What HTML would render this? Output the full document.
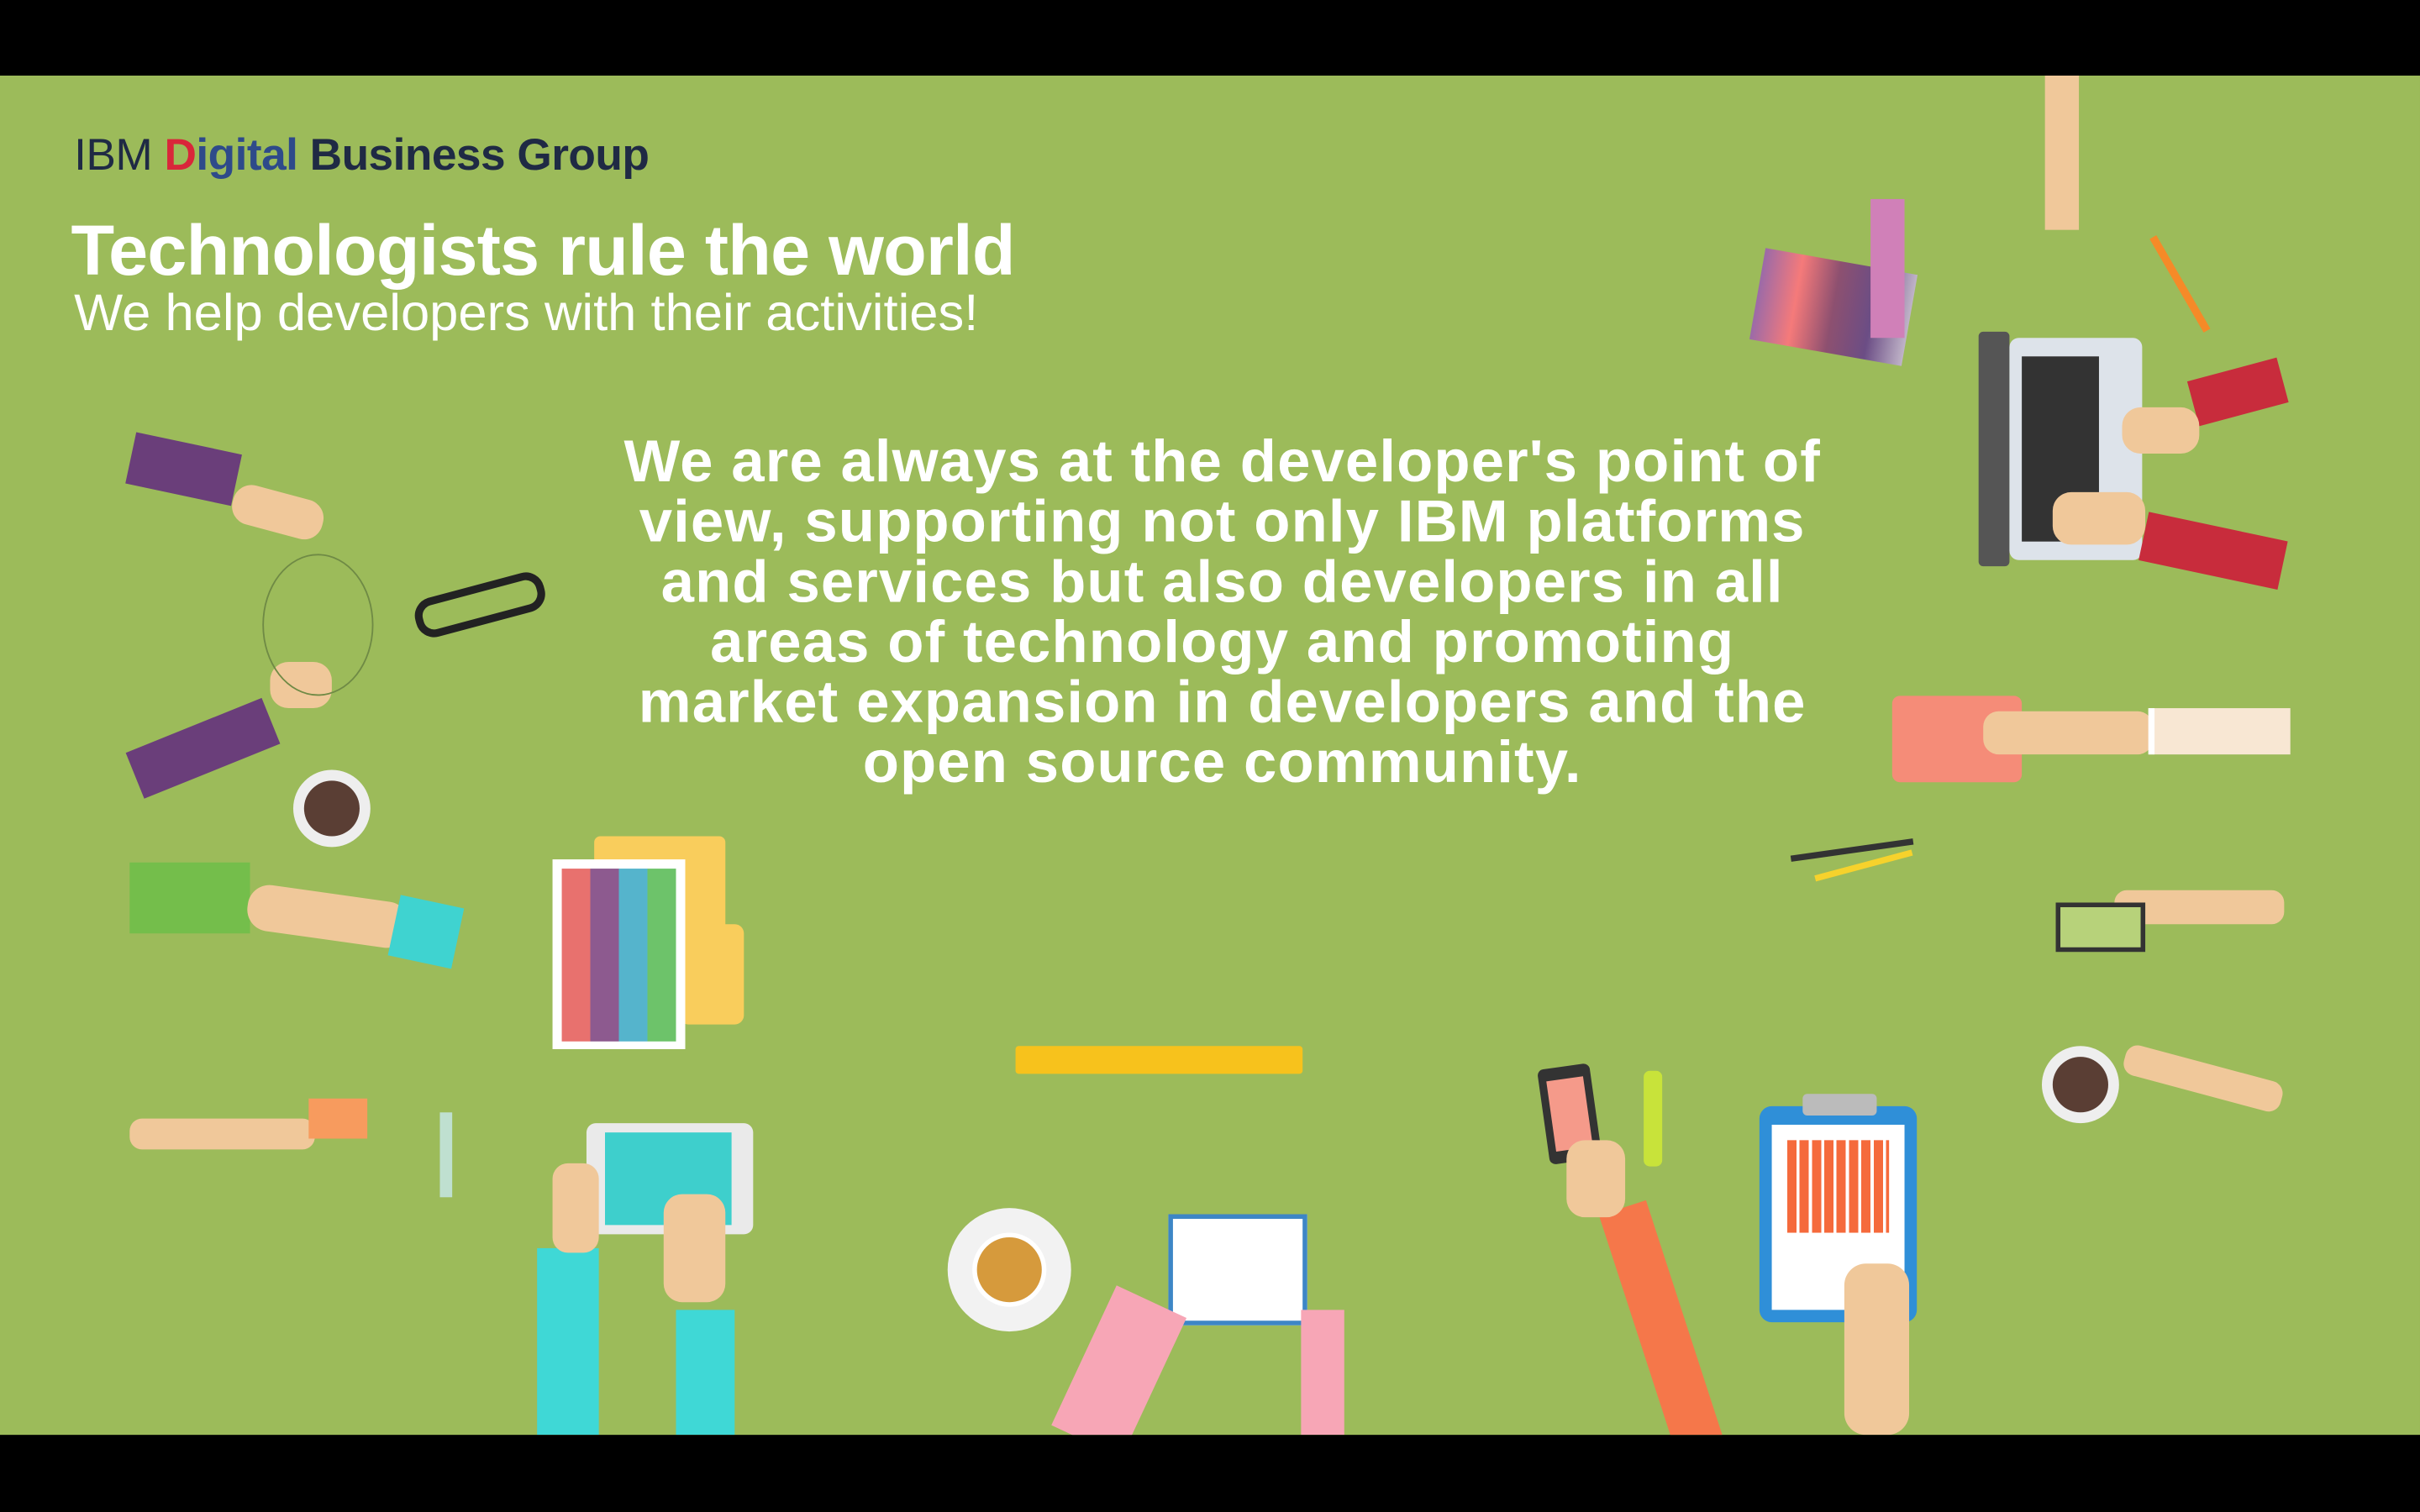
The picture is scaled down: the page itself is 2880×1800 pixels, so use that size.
<!DOCTYPE html>
<html><head><meta charset="utf-8"><style>
html,body{margin:0;padding:0;background:#000;width:2880px;height:1800px;overflow:hidden}
#s{position:absolute;left:0;top:0;width:1568px;height:980px;transform:scale(1.83673);transform-origin:0 0;background:#000;font-family:"Liberation Sans","DejaVu Sans",sans-serif}
#g{position:absolute;left:0;top:49px;width:1568px;height:881px;background:#9cbb5a;overflow:hidden}
.a{position:absolute}
.skin{background:#f0c89a}
.c{position:absolute;text-align:center;left:292px;width:1000px;color:#fff;font-weight:bold;font-size:38.5px;line-height:39px;top:231px;letter-spacing:0.6px}
</style></head><body><div id="s">
<div id="g">
<div class="a" style="left:48px;top:36px;font-size:29px;letter-spacing:-0.3px;color:#1f2a44"><span style="font-weight:normal">IBM </span><b><span style="color:#d9263a">D</span><span style="color:#2e4a8a">igital</span> Business Group</b></div>
<div class="a" style="left:46px;top:86px;font-size:46px;font-weight:bold;color:#fff;letter-spacing:-0.4px">Technologists rule the world</div>
<div class="a" style="left:48px;top:136px;font-size:33.5px;color:#fff">We help developers with their activities!</div>
<div class="c">We are always at the developer's point of<br>view, supporting not only IBM platforms<br>and services but also developers in all<br>areas of technology and promoting<br>market expansion in developers and the<br>open source community.</div>

<!-- left arms -->
<div class="a" style="left:84px;top:238px;width:70px;height:34px;background:#6a3e7a;transform:rotate(12deg)"></div>
<div class="a skin" style="left:150px;top:270px;width:60px;height:26px;border-radius:12px;transform:rotate(15deg)"></div>
<div class="a" style="left:84px;top:420px;width:95px;height:32px;background:#6a3e7a;transform:rotate(-22deg)"></div>
<div class="a skin" style="left:175px;top:380px;width:40px;height:30px;border-radius:12px"></div>
<div class="a" style="left:170px;top:310px;width:70px;height:90px;border:1px solid #6f8a45;border-radius:50%"></div>
<div class="a" style="left:190px;top:450px;width:50px;height:50px;border-radius:50%;background:#eee"></div>
<div class="a" style="left:197px;top:457px;width:36px;height:36px;border-radius:50%;background:#5a3e34"></div>
<div class="a" style="left:268px;top:330px;width:86px;height:26px;border:5px solid #222;border-radius:12px;transform:rotate(-15deg);box-sizing:border-box"></div>
<div class="a" style="left:84px;top:510px;width:78px;height:46px;background:#74be4b"></div>
<div class="a skin" style="left:160px;top:530px;width:105px;height:30px;border-radius:14px;transform:rotate(8deg)"></div>
<div class="a" style="left:255px;top:535px;width:42px;height:40px;background:#3fd3d0;transform:rotate(12deg)"></div>
<div class="a skin" style="left:84px;top:676px;width:120px;height:20px;border-radius:8px"></div>
<div class="a" style="left:200px;top:663px;width:38px;height:26px;background:#f79b5e"></div>
<div class="a" style="left:285px;top:672px;width:8px;height:55px;background:#bfe0d0"></div>

<!-- swatch + folder -->
<div class="a" style="left:385px;top:493px;width:85px;height:120px;background:#f9cd5c;border-radius:4px"></div>
<div class="a" style="left:440px;top:550px;width:42px;height:65px;background:#f9cd5c;border-radius:6px"></div>
<div class="a" style="left:358px;top:508px;width:86px;height:123px;background:#fff"></div>
<div class="a" style="left:364px;top:514px;width:74px;height:112px;background:linear-gradient(90deg,#e8716e 25%,#8d5a8f 25% 50%,#55b4cc 50% 75%,#6dc36a 75%)"></div>

<!-- tablet -->
<div class="a" style="left:348px;top:760px;width:40px;height:121px;background:#3fd8d6"></div>
<div class="a" style="left:438px;top:800px;width:38px;height:81px;background:#3fd8d6"></div>
<div class="a" style="left:380px;top:679px;width:108px;height:72px;background:#eaeaea;border-radius:6px"></div>
<div class="a" style="left:392px;top:685px;width:82px;height:60px;background:#3ecfcc"></div>
<div class="a skin" style="left:358px;top:705px;width:30px;height:58px;border-radius:10px"></div>
<div class="a skin" style="left:430px;top:725px;width:40px;height:70px;border-radius:12px"></div>

<!-- ruler, coffee, notebook -->
<div class="a" style="left:658px;top:629px;width:186px;height:18px;background:#f7c21c;border-radius:2px"></div>
<div class="a" style="left:614px;top:734px;width:80px;height:80px;border-radius:50%;background:#f2f2f2"></div>
<div class="a" style="left:630px;top:750px;width:48px;height:48px;border-radius:50%;background:#d69a3c;border:3px solid #fff;box-sizing:border-box"></div>
<div class="a" style="left:757px;top:738px;width:90px;height:72px;background:#fff;border:3px solid #3d86c6;box-sizing:border-box"></div>
<div class="a" style="left:700px;top:790px;width:50px;height:100px;background:#f7a6b6;transform:rotate(25deg)"></div>
<div class="a" style="left:843px;top:800px;width:28px;height:81px;background:#f7a6b6"></div>

<!-- phone + orange arm -->
<div class="a" style="left:1000px;top:642px;width:34px;height:62px;background:#333;border-radius:4px;transform:rotate(-8deg)"></div>
<div class="a" style="left:1005px;top:650px;width:24px;height:46px;background:#f59a8a;transform:rotate(-8deg)"></div>
<div class="a" style="left:1060px;top:730px;width:32px;height:160px;background:#f5774a;transform:rotate(-18deg)"></div>
<div class="a skin" style="left:1015px;top:690px;width:38px;height:50px;border-radius:12px"></div>
<div class="a" style="left:1065px;top:645px;width:12px;height:62px;background:#c8e33a;border-radius:4px"></div>

<!-- clipboard -->
<div class="a" style="left:1140px;top:668px;width:102px;height:140px;background:#2f8fd8;border-radius:8px"></div>
<div class="a" style="left:1148px;top:680px;width:86px;height:120px;background:#fff"></div>
<div class="a" style="left:1158px;top:690px;width:66px;height:60px;background:repeating-linear-gradient(90deg,#f56a3c 0 6px,#fff 6px 8px)"></div>
<div class="a" style="left:1168px;top:660px;width:48px;height:14px;background:#bbb;border-radius:3px"></div>
<div class="a skin" style="left:1195px;top:770px;width:42px;height:111px;border-radius:14px"></div>

<!-- right side -->
<div class="a skin" style="left:1325px;top:0;width:22px;height:100px"></div>
<div class="a" style="left:1138px;top:120px;width:100px;height:60px;background:linear-gradient(90deg,#9b6aa8,#f57a7a,#8d5070,#6b4d85,#c0b4c8);transform:rotate(10deg)"></div>
<div class="a" style="left:1212px;top:80px;width:22px;height:90px;background:#d080b8"></div>
<div class="a" style="left:1410px;top:100px;width:5px;height:70px;background:#f58a28;transform:rotate(-30deg)"></div>
<div class="a" style="left:1282px;top:166px;width:20px;height:152px;background:#555;border-radius:3px"></div>
<div class="a" style="left:1302px;top:170px;width:86px;height:144px;background:#dde3ea;border-radius:6px"></div>
<div class="a" style="left:1310px;top:182px;width:50px;height:120px;background:#333"></div>
<div class="a" style="left:1420px;top:190px;width:60px;height:30px;background:#c82c3c;transform:rotate(-15deg)"></div>
<div class="a skin" style="left:1375px;top:215px;width:50px;height:30px;border-radius:12px"></div>
<div class="a" style="left:1388px;top:292px;width:92px;height:32px;background:#c82c3c;transform:rotate(12deg)"></div>
<div class="a skin" style="left:1330px;top:270px;width:60px;height:34px;border-radius:12px"></div>
<div class="a" style="left:1226px;top:402px;width:84px;height:56px;background:#f58c78;border-radius:5px"></div>
<div class="a skin" style="left:1285px;top:412px;width:110px;height:28px;border-radius:10px"></div>
<div class="a" style="left:1392px;top:410px;width:88px;height:30px;background:#f8e7d3;border-left:4px solid #fff"></div>
<div class="a" style="left:1160px;top:500px;width:80px;height:4px;background:#333;transform:rotate(-8deg)"></div>
<div class="a" style="left:1175px;top:510px;width:65px;height:4px;background:#f6d22c;transform:rotate(-15deg)"></div>
<div class="a skin" style="left:1370px;top:528px;width:110px;height:22px;border-radius:8px"></div>
<div class="a" style="left:1332px;top:536px;width:58px;height:32px;background:#b7d27a;border:3px solid #333;box-sizing:border-box"></div>
<div class="a" style="left:1323px;top:629px;width:50px;height:50px;border-radius:50%;background:#eee"></div>
<div class="a" style="left:1330px;top:636px;width:36px;height:36px;border-radius:50%;background:#5a3e34"></div>
<div class="a skin" style="left:1375px;top:640px;width:105px;height:20px;border-radius:8px;transform:rotate(15deg)"></div>
</div>
</div></body></html>
